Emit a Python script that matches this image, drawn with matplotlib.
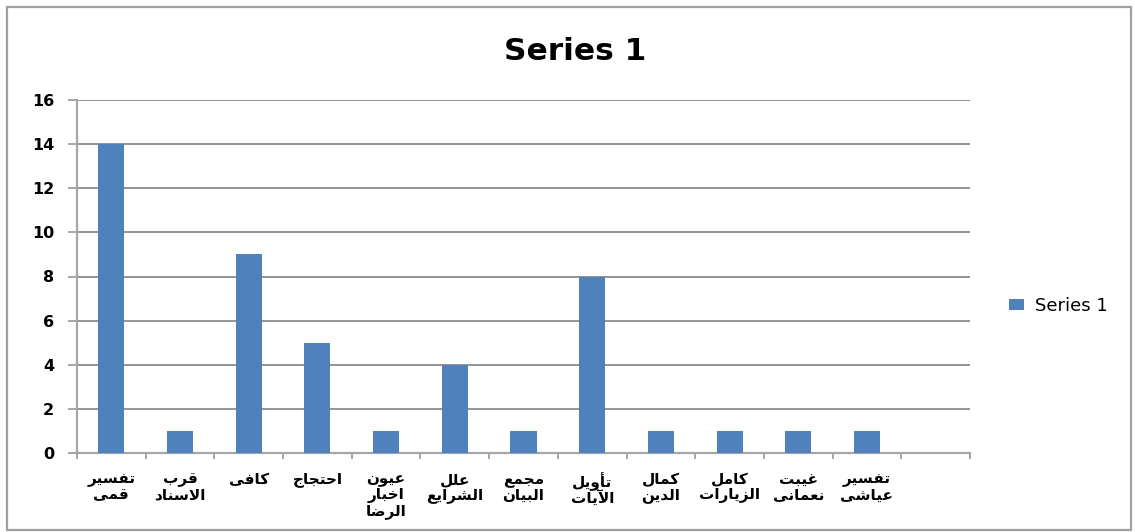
import numpy as np
import matplotlib
matplotlib.use("Agg")
import matplotlib.pyplot as plt
from matplotlib.patches import Rectangle

plt.rcParams["font.family"] = "DejaVu Sans"

# chart data
books = ["تفسیر\nقمی", "قرب\nالاسناد", "کافی", "احتجاج", "عیون\nاخبار\nالرضا",
         "علل\nالشرایع", "مجمع\nالبیان", "تأویل\nالآیات", "کمال\nالدین",
         "کامل\nالزیارات", "غیبت\nنعمانی", "تفسیر\nعیاشی", ""]
counts = [14, 1, 9, 5, 1, 4, 1, 8, 1, 1, 1, 1, np.nan]
y_ticks = [0, 2, 4, 6, 8, 10, 12, 14, 16]
series_name = "Series 1"

# matplotlib has no arabic shaping, so pick the presentation forms by hand
# (isolated, final, initial, medial); right-joining letters only have two
FORMS = {
    'ا': '\uFE8D\uFE8E', 'أ': '\uFE83\uFE84', 'آ': '\uFE81\uFE82',
    'د': '\uFEA9\uFEAA', 'ر': '\uFEAD\uFEAE', 'ز': '\uFEAF\uFEB0',
    'و': '\uFEED\uFEEE',
    'ب': '\uFE8F\uFE90\uFE91\uFE92', 'ت': '\uFE95\uFE96\uFE97\uFE98',
    'ج': '\uFE9D\uFE9E\uFE9F\uFEA0', 'ح': '\uFEA1\uFEA2\uFEA3\uFEA4',
    'خ': '\uFEA5\uFEA6\uFEA7\uFEA8', 'س': '\uFEB1\uFEB2\uFEB3\uFEB4',
    'ش': '\uFEB5\uFEB6\uFEB7\uFEB8', 'ض': '\uFEBD\uFEBE\uFEBF\uFEC0',
    'ط': '\uFEC1\uFEC2\uFEC3\uFEC4', 'ع': '\uFEC9\uFECA\uFECB\uFECC',
    'غ': '\uFECD\uFECE\uFECF\uFED0', 'ف': '\uFED1\uFED2\uFED3\uFED4',
    'ق': '\uFED5\uFED6\uFED7\uFED8', 'ل': '\uFEDD\uFEDE\uFEDF\uFEE0',
    'م': '\uFEE1\uFEE2\uFEE3\uFEE4', 'ن': '\uFEE5\uFEE6\uFEE7\uFEE8',
    'ک': '\uFB8E\uFB8F\uFB90\uFB91', 'ی': '\uFBFC\uFBFD\uFBFE\uFBFF',
}
LAM_ALEF = {'ا': '\uFEFB\uFEFC', 'أ': '\uFEF7\uFEF8', 'آ': '\uFEF5\uFEF6'}


def shape_line(line):
    out = []
    i = 0
    while i < len(line):
        c = line[i]
        if c not in FORMS:
            out.append(c)
            i += 1
            continue
        joined = i > 0 and len(FORMS.get(line[i - 1], '')) == 4
        if c == 'ل' and i + 1 < len(line) and line[i + 1] in LAM_ALEF:
            out.append(LAM_ALEF[line[i + 1]][1 if joined else 0])
            i += 2
            continue
        f = FORMS[c]
        nxt = len(f) == 4 and i + 1 < len(line) and line[i + 1] in FORMS
        if joined and nxt:
            out.append(f[3])
        elif joined:
            out.append(f[1])
        elif nxt:
            out.append(f[2])
        else:
            out.append(f[0])
        i += 1
    return ''.join(reversed(out))


def shape(label):
    return "\n".join(shape_line(l) for l in label.split("\n"))


fig = plt.figure(figsize=(11.35, 5.32), dpi=100)
ax = fig.add_axes([77 / 1135, 1 - 453 / 532, 893 / 1135, 353 / 532])

x = np.arange(len(books))
ax.bar(x, counts, width=0.38, color="#4F81BD", label=series_name, zorder=3)

ax.set_xlim(-0.5, len(books) - 0.5)
ax.set_ylim(0, 16)
ax.set_yticks(y_ticks)
ax.set_xticks(x)
ax.set_xticklabels([shape(b) for b in books], fontsize=11, fontweight="bold",
                   linespacing=1.0, va="top")
ax.set_xticks(np.arange(len(books) + 1) - 0.5, minor=True)

ax.grid(axis="y", color="#949494", linewidth=1.4, zorder=0)
for s in ["top", "right"]:
    ax.spines[s].set_visible(False)
for s in ["left", "bottom"]:
    ax.spines[s].set_color("#a6a6a6")
    ax.spines[s].set_linewidth(1.6)
ax.tick_params(axis="y", length=6.5, width=1.4, color="#a6a6a6", pad=10,
               labelsize=11.5)
for lbl in ax.get_yticklabels():
    lbl.set_fontweight("bold")
ax.tick_params(axis="x", which="major", length=0, pad=14)
ax.tick_params(axis="x", which="minor", length=4, width=1.4, color="#a6a6a6")

fig.text(575 / 1135, 1 - 52 / 532, series_name, fontsize=22.5, fontweight="bold",
         ha="center", va="center")

ax.legend(loc="center left", bbox_to_anchor=(1.044, 0.416), frameon=False,
          fontsize=13, handlelength=0.8, handleheight=0.55, handletextpad=0.6,
          borderpad=0, borderaxespad=0)

fig.add_artist(Rectangle((7 / 1135, 2 / 532), 1124 / 1135, 523 / 532,
                         transform=fig.transFigure, fill=False,
                         edgecolor="#a0a0a0", linewidth=1.6))

fig.savefig("out.png", dpi=100)
